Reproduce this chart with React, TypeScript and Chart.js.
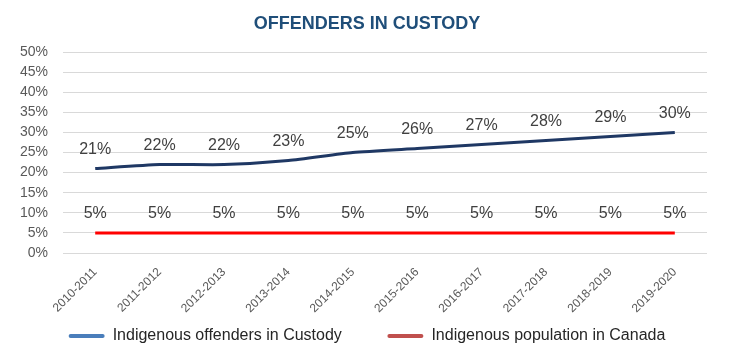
import React, { useEffect, useRef } from "react";
import { Chart, registerables } from "chart.js";

Chart.register(...registerables);

const categories = [
  "2010-2011", "2011-2012", "2012-2013", "2013-2014", "2014-2015",
  "2015-2016", "2016-2017", "2017-2018", "2018-2019", "2019-2020",
];
const offendersInCustody = [21, 22, 22, 23, 25, 26, 27, 28, 29, 30];
const populationInCanada = [5, 5, 5, 5, 5, 5, 5, 5, 5, 5];
const seriesNames = ["Indigenous offenders in Custody", "Indigenous population in Canada"];

const lineColors = ["#1f3864", "#ff0000"];
const legendColors = ["#4a7ebb", "#c0504d"];
const FONT = "Arial, 'Liberation Sans', sans-serif";

const dataLabelPlugin = {
  id: "dataLabels",
  afterDatasetsDraw(chart: any) {
    const ctx = chart.ctx;
    ctx.save();
    ctx.font = "16px " + FONT;
    ctx.fillStyle = "#404040";
    ctx.textAlign = "center";
    ctx.textBaseline = "middle";
    chart.data.datasets.forEach((ds: any, i: number) => {
      const meta = chart.getDatasetMeta(i);
      meta.data.forEach((pt: any, j: number) => {
        ctx.fillText(ds.data[j] + "%", pt.x, pt.y - 19);
      });
    });
    ctx.restore();
  },
};

export default function App() {
  const ref = useRef<HTMLCanvasElement | null>(null);
  useEffect(() => {
    document.body.style.margin = "0";
    const chart = new Chart(ref.current as HTMLCanvasElement, {
      type: "line",
      data: {
        labels: categories,
        datasets: [
          {
            label: seriesNames[0],
            data: offendersInCustody,
            borderColor: lineColors[0],
            backgroundColor: lineColors[0],
            borderWidth: 3,
            pointRadius: 0,
            tension: 0.2,
          },
          {
            label: seriesNames[1],
            data: populationInCanada,
            borderColor: lineColors[1],
            backgroundColor: lineColors[1],
            borderWidth: 3,
            pointRadius: 0,
          },
        ],
      },
      options: {
        animation: false,
        responsive: false,
        maintainAspectRatio: false,
        layout: { padding: { left: 0, right: 10, top: 0, bottom: 9 } },
        plugins: {
          title: {
            display: true,
            text: "OFFENDERS IN CUSTODY",
            color: "#1f4e79",
            font: { family: FONT, size: 18, weight: "bold" },
            padding: { top: 13, bottom: 17.4 },
          },
          legend: {
            position: "bottom",
            labels: {
              boxWidth: 36,
              boxHeight: 4,
              padding: 10,
              color: "#262626",
              font: { family: FONT, size: 16 },
              generateLabels: (c: any) =>
                c.data.datasets.map((ds: any, i: number) => ({
                  text: i === 0 ? ds.label + "        " : ds.label,
                  fillStyle: legendColors[i],
                  strokeStyle: legendColors[i],
                  lineWidth: 0,
                  borderRadius: 2,
                  datasetIndex: i,
                  hidden: false,
                  fontColor: "#262626",
                })),
            },
          },
          tooltip: { enabled: false },
        },
        scales: {
          x: {
            offset: true,
            grid: { display: false },
            border: { display: false },
            ticks: {
              color: "#595959",
              font: { family: FONT, size: 12 },
              minRotation: 45,
              maxRotation: 45,
              padding: 4,
            },
            afterFit: (s: any) => {
              s.height = 65;
            },
          },
          y: {
            min: 0,
            max: 50,
            grid: { color: "#d9d9d9", lineWidth: 1, drawTicks: false },
            border: { display: false },
            ticks: {
              stepSize: 5,
              color: "#595959",
              padding: 15,
              font: { family: FONT, size: 14 },
              callback: (v: any) => v + "%",
            },
            afterFit: (s: any) => {
              s.width = 63;
            },
          },
          yRight: {
            position: "right",
            min: 0,
            max: 50,
            grid: { display: false, drawOnChartArea: false },
            border: { display: false },
            ticks: { display: false },
            afterFit: (s: any) => {
              s.width = 27;
            },
          },
        },
      },
      plugins: [dataLabelPlugin],
    } as any);
    return () => chart.destroy();
  }, []);
  return (
    <div style={{ width: 744, height: 363 }}>
      <canvas ref={ref} width={744} height={363} style={{ width: 744, height: 363 }} />
    </div>
  );
}
